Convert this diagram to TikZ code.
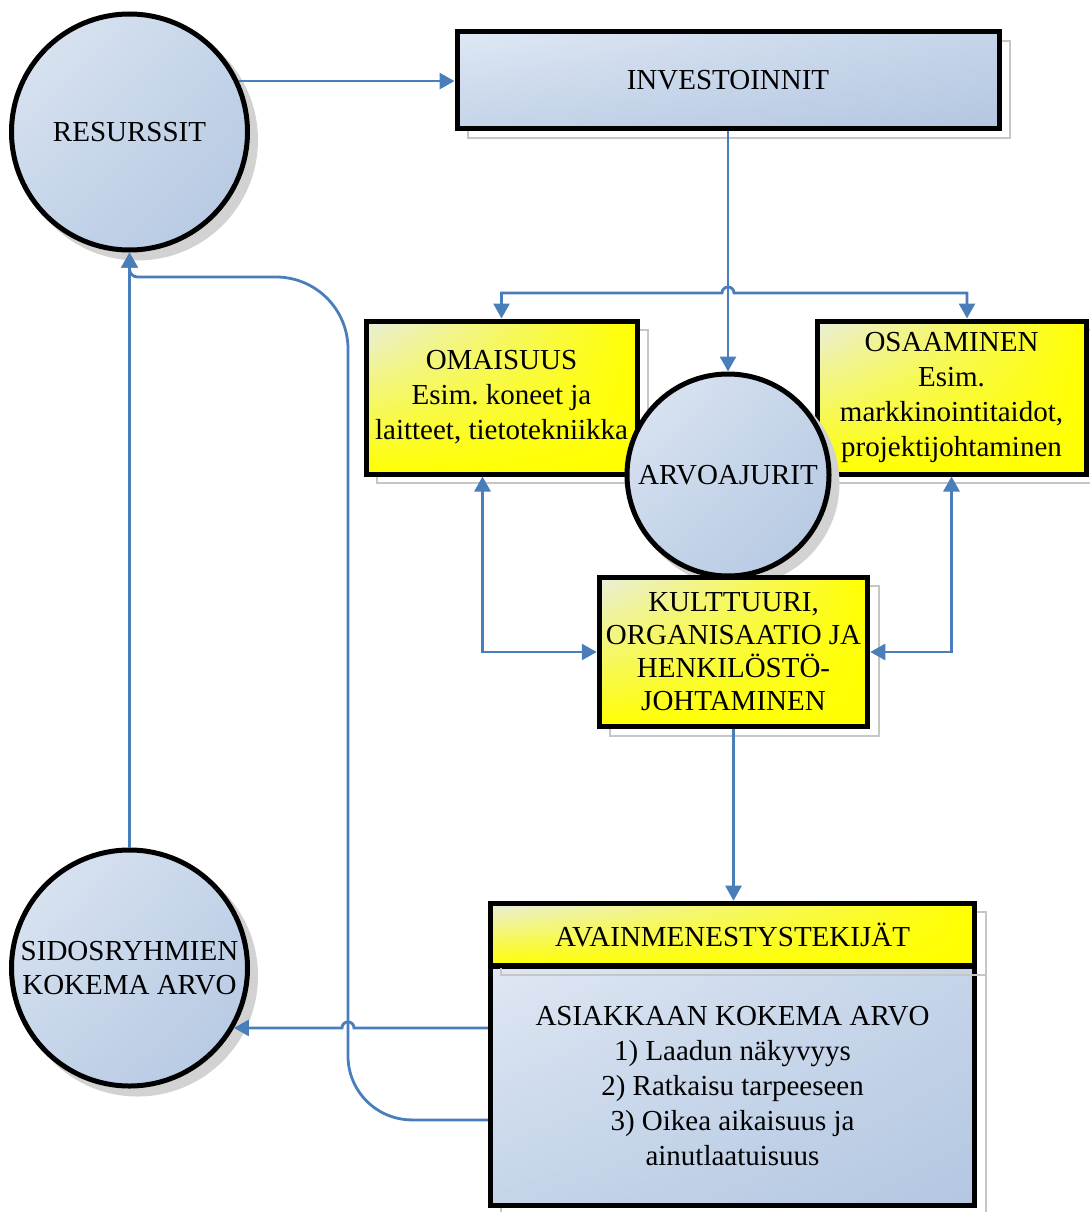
\documentclass[tikz,border=0pt]{standalone}
\usepackage{fontspec}
\setmainfont{Liberation Serif}
\frenchspacing
\usetikzlibrary{arrows.meta,calc,shadings}
\definecolor{lineblue}{HTML}{4A7EBB}
\definecolor{blueA}{HTML}{DFE7F3}
\definecolor{blueB}{HTML}{C4D4E9}
\definecolor{blueC}{HTML}{B4C7E1}
\definecolor{paleY}{HTML}{E9EEDC}
\definecolor{pureY}{HTML}{FFFF00}
\definecolor{shadowgray}{HTML}{D2D2D2}
\definecolor{shadowline}{HTML}{C6C6C6}
\begin{document}
\begin{tikzpicture}[x=1pt,y=1pt,
  >={Triangle[length=15pt,width=16pt]},
  base/.style={draw=black, line width=5pt, inner sep=0pt, align=center,
    font={\fontsize{29}{35}\selectfont}},
  bluefill/.style={shade, upper left=blueA, upper right=blueB,
    lower left=blueB, lower right=blueC},
  yellowfill/.style={shade, upper left=paleY, upper right=pureY,
    lower left=pureY, lower right=pureY},
  boxshadow/.style={preaction={draw=shadowline, line width=2pt,
    transform canvas={xshift=11pt,yshift=-9pt}}},
  ballshadow/.style={preaction={draw=shadowgray, fill=shadowgray, line width=5pt,
    transform canvas={xshift=8pt,yshift=-8pt}}},
  ball/.style={base, bluefill, ballshadow, circle, minimum size=#1},
  bluebox/.style={base, bluefill, boxshadow, rectangle},
  yellowbox/.style={base, yellowfill, boxshadow, rectangle},
  conn/.style={draw=lineblue, line width=2.8pt},
]
\useasboundingbox (0,0) rectangle (1089,-1212);

% --- shapes ---
\node[bluebox, minimum width=542pt, minimum height=97pt] (inv) at (728,-80.5) {INVESTOINNIT};
\node[ball=236pt] (res) at (129.5,-132) {RESURSSIT};
\node[yellowbox, minimum width=271pt, minimum height=153pt] (oma) at (501.5,-397.5)
  {OMAISUUS\\Esim. koneet ja\\laitteet, tietotekniikka};
\node[yellowbox, minimum width=269pt, minimum height=153pt] (osa) at (951.5,-397.5)
  {OSAAMINEN\\Esim.\\markkinointitaidot,\\projektijohtaminen};
\node[ball=202pt] (arvo) at (728,-475) {ARVOAJURIT};
\node[yellowbox, minimum width=268.5pt, minimum height=149.5pt,
  font={\fontsize{29}{33}\selectfont}] (kul) at (733.5,-652)
  {KULTTUURI,\\ORGANISAATIO JA\\HENKILÖSTÖ-\\JOHTAMINEN};
\node[bluebox, minimum width=484.5pt, minimum height=239.75pt] (body) at (732.5,-1085.9)
  {ASIAKKAAN KOKEMA ARVO\\1) Laadun näkyvyys\\2) Ratkaisu tarpeeseen\\3) Oikea aikaisuus ja\\ainutlaatuisuus};
\node[yellowbox, minimum width=484.5pt, minimum height=62.75pt] (hdr) at (732.5,-934.6)
  {AVAINMENESTYSTEKIJÄT};
\node[ball=236pt, font={\fontsize{29}{34}\selectfont}] (sid) at (129.5,-968)
  {SIDOSRYHMIEN\\KOKEMA ARVO};

% --- connectors ---
\draw[conn,->] (res.25) -- (res.25 -| inv.west);
\draw[conn,->] (inv.south) -- (arvo.north);

\coordinate (hop1) at (inv.south |- 0,-293);
\coordinate (osaIn) at ($(osa.north)+(15.5,0)$);
\draw[conn,<->] (oma.north) -- (oma.north |- hop1) -- ($(hop1)+(-6,0)$)
  arc[start angle=180, end angle=0, radius=6] -- (osaIn |- hop1) -- (osaIn);

\coordinate (omaOut) at ($(oma.south)+(-19,0)$);
\draw[conn,<->] (omaOut) |- (kul.west);
\draw[conn,<->] (osa.south) |- (kul.east);

\draw[conn,->] (kul.south) -- (kul.south |- hdr.north);

\coordinate (vx) at (348,0);
\coordinate (outA) at ($(body.west)+(0,58)$);
\coordinate (hop2) at (outA -| vx);
\draw[conn,->] (outA) -- ($(hop2)+(6,0)$)
  arc[start angle=0, end angle=180, radius=6] -- (sid.-30 |- outA);

\draw[conn,->] (sid.north) -- (res.south);

\coordinate (outB) at ($(body.west)+(0,-34)$);
\coordinate (loopBot) at (outB -| vx);
\draw[conn,->] (outB) -- ($(loopBot)+(64,0)$)
  arc[start angle=270, end angle=180, radius=64]
  -- (348,-349)
  arc[start angle=0, end angle=90, radius=72]
  -- (137.5,-277)
  arc[start angle=270, end angle=180, radius=8]
  -- (res.south);
\end{tikzpicture}
\end{document}
